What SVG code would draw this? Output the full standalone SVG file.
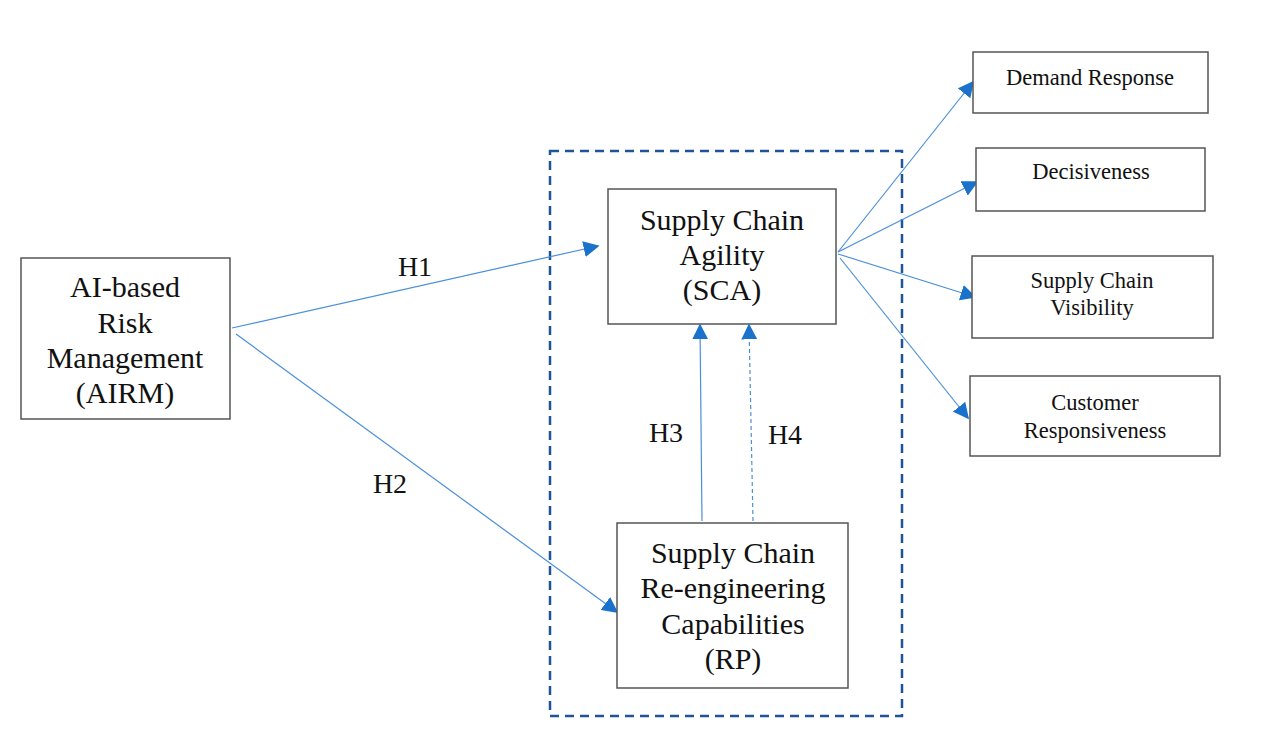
<svg xmlns="http://www.w3.org/2000/svg" width="1264" height="737" viewBox="0 0 1264 737">
<style>
.box{fill:#fff;stroke:#555;stroke-width:1.5}
.big{font-family:"Liberation Serif","Times New Roman",serif;font-size:30px;fill:#111;text-anchor:middle}
.sm{font-family:"Liberation Serif","Times New Roman",serif;font-size:22.5px;fill:#111;text-anchor:middle}
.lbl{font-family:"Liberation Serif","Times New Roman",serif;font-size:28px;fill:#111;text-anchor:middle}
.ln{stroke:#4a8fdb;stroke-width:1.2;fill:none;marker-end:url(#ah)}
</style>
<defs>
<marker id="ah" viewBox="0 0 10 10" refX="9" refY="5" markerWidth="16" markerHeight="16" markerUnits="userSpaceOnUse" orient="auto">
<path d="M0,0 L10,5 L0,10 Z" fill="#1a72cc"/>
</marker>
</defs>
<rect width="1264" height="737" fill="#fff"/>
<g id="group-box">
<rect x="550" y="151" width="352" height="565" fill="none" stroke="#1f5497" stroke-width="2.5" stroke-dasharray="9,6"/>
</g>
<g id="connectors">
<line class="ln" x1="232" y1="328" x2="598" y2="246"/>
<line class="ln" x1="236" y1="334" x2="617" y2="612"/>
<line class="ln" x1="702" y1="521" x2="700" y2="325"/>
<line class="ln" x1="753" y1="521" x2="749" y2="325" stroke-dasharray="4,3"/>
<line class="ln" x1="838" y1="252" x2="973" y2="82"/>
<line class="ln" x1="838" y1="252" x2="977" y2="182"/>
<line class="ln" x1="838" y1="254" x2="975" y2="297"/>
<line class="ln" x1="840" y1="258" x2="968" y2="418"/>
<text class="lbl" x="415" y="276">H1</text>
<text class="lbl" x="390" y="493">H2</text>
<text class="lbl" x="666" y="442">H3</text>
<text class="lbl" x="785" y="444">H4</text>
</g>
<g id="airm">
<rect class="box" x="21" y="258" width="209" height="161"/>
<text class="big" x="125" y="297">AI-based</text>
<text class="big" x="125" y="333">Risk</text>
<text class="big" x="125" y="368">Management</text>
<text class="big" x="125" y="403">(AIRM)</text>
</g>
<g id="sca">
<rect class="box" x="608" y="189" width="228" height="135"/>
<text class="big" x="722" y="230">Supply Chain</text>
<text class="big" x="722" y="265">Agility</text>
<text class="big" x="722" y="300">(SCA)</text>
</g>
<g id="rp">
<rect class="box" x="617" y="523" width="231" height="165"/>
<text class="big" x="733" y="563">Supply Chain</text>
<text class="big" x="733" y="598">Re-engineering</text>
<text class="big" x="733" y="634">Capabilities</text>
<text class="big" x="733" y="669">(RP)</text>
</g>
<g id="demand">
<rect class="box" x="973" y="52" width="235" height="61"/>
<text class="sm" x="1090" y="85">Demand Response</text>
</g>
<g id="decisiveness">
<rect class="box" x="976" y="148" width="229" height="63"/>
<text class="sm" x="1091" y="179">Decisiveness</text>
</g>
<g id="visibility">
<rect class="box" x="972" y="256" width="241" height="82"/>
<text class="sm" x="1092" y="288">Supply Chain</text>
<text class="sm" x="1092" y="315">Visibility</text>
</g>
<g id="customer">
<rect class="box" x="970" y="376" width="250" height="80"/>
<text class="sm" x="1095" y="410">Customer</text>
<text class="sm" x="1095" y="438">Responsiveness</text>
</g>
</svg>
